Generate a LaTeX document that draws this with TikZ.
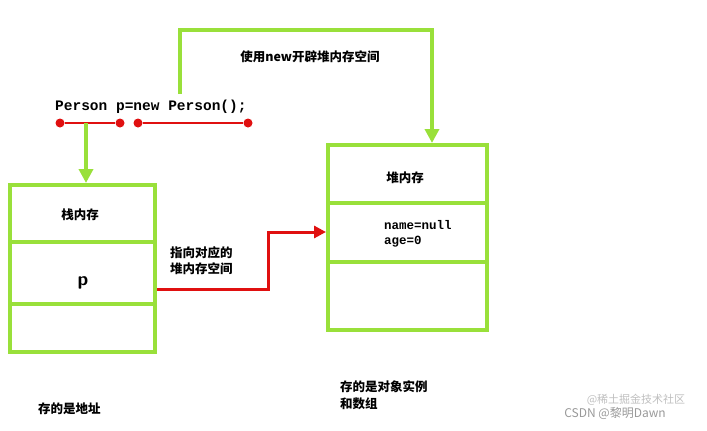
\documentclass[tikz,border=0pt]{standalone}
\usepackage{fontspec}
\setmainfont{Noto Sans CJK SC}
\newfontfamily\cjk{Noto Sans CJK SC}
\newfontfamily\codefont{Liberation Mono}
\usetikzlibrary{arrows.meta}
\definecolor{gr}{HTML}{99E03A}
\definecolor{rd}{HTML}{E01010}
\tikzset{
  box/.style={draw=gr,line width=3.5pt},
  garrow/.style={draw=gr,line width=3.5pt,-{Triangle[length=14pt,width=14pt]}},
  rarrow/.style={draw=rd,line width=3pt,-{Triangle[length=12pt,width=12pt]}},
  rline/.style={draw=rd,line width=2.5pt},
  dot/.style={circle,fill=rd,inner sep=0pt,minimum size=9pt},
  lbl/.style={font=\cjk\bfseries\fontsize{12.5}{15}\selectfont,inner sep=0pt},
  code/.style={font=\codefont\bfseries\fontsize{14.5}{16}\selectfont,inner sep=0pt,anchor=west},
}
\begin{document}
\begin{tikzpicture}[x=1pt,y=-1pt]
\useasboundingbox (0,0) rectangle (707,431);
% left box
\draw[box] (10,185) rectangle (155,352);
\draw[box] (10,242) -- (155,242);
\draw[box] (10,304) -- (155,304);
\node[lbl] (stack) at (80,215) {栈内存};
\node[font=\sffamily\bfseries\fontsize{19}{22}\selectfont] (p) at (83,283) {p};
\coordinate (pout) at (157,289);
% right box
\draw[box] (328,145) rectangle (487,330);
\draw[box] (328,203) -- (487,203);
\draw[box] (328,262) -- (487,262);
\node[lbl] (heap) at (405,178) {堆内存};
\node[code,anchor=north west,align=left,font=\codefont\bfseries\fontsize{12.5}{15}\selectfont] (fields) at (384,220) {name=null\\age=0};
\coordinate (hin) at (326,232);
\coordinate (htop) at (432,143);
% code
\node[code] (codeline) at (55,107) {Person p=new Person();};
\node[dot] (d1) at (60,123) {};
\node[dot] (d2) at (120,123) {};
\node[dot] (d3) at (138,123) {};
\node[dot] (d4) at (248,123) {};
\draw[rline] (d1) -- (d2);
\draw[rline] (d3) -- (d4);
\coordinate (sa) at (86,123);
\coordinate (sb) at (86,183);
\draw[garrow] (sa) -- (sb);
\coordinate (ta) at (180,94);
\draw[garrow] (ta) |- (432,30) -- (htop);
\node[lbl] (newlbl) at (310,57) {使用new开辟堆内存空间};
% red arrow
\draw[rarrow] (pout) -- (268,289) -- (268,232) -- (hin);
\node[lbl,anchor=west,align=left] (ptr) at (170,261) {指向对应的\\[1pt]堆内存空间};
% bottom
\node[lbl,anchor=west] (b1) at (38,409) {存的是地址};
\node[lbl,anchor=west,align=left] (b2) at (340,395) {存的是对象实例\\[2pt]和数组};
\node[font=\cjk\fontsize{12}{14}\selectfont,text=gray!80,inner sep=0pt] (wm) at (615,413) {CSDN @黎明Dawn};
\node[font=\cjk\fontsize{11}{13}\selectfont,text=gray!50,inner sep=0pt] (wm2) at (636,400) {@稀土掘金技术社区};
\end{tikzpicture}
\end{document}
